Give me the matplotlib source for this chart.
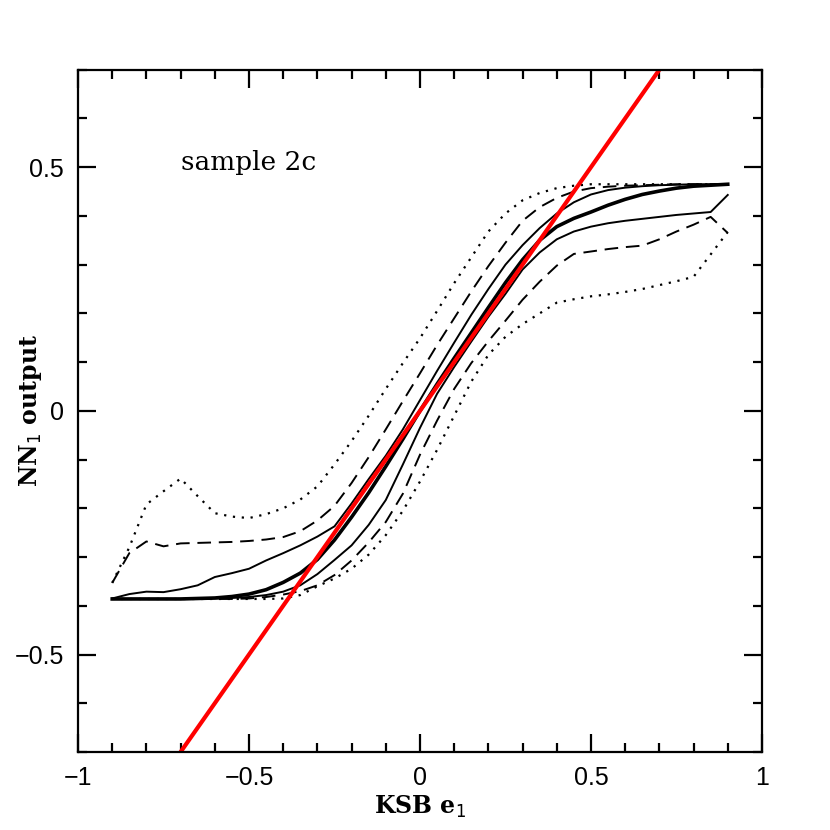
import numpy as np
import matplotlib
matplotlib.use('Agg')
import matplotlib.pyplot as plt
from matplotlib.ticker import MultipleLocator, FixedLocator

# KSB e1 bins
ksb_e1 = [-0.9, -0.85, -0.8, -0.75, -0.7, -0.65, -0.6, -0.55, -0.5, -0.45,
          -0.4, -0.35, -0.3, -0.25, -0.2, -0.15, -0.1, -0.05, 0.0, 0.05,
          0.1, 0.15, 0.2, 0.25, 0.3, 0.35, 0.4, 0.45, 0.5, 0.55,
          0.6, 0.65, 0.7, 0.75, 0.8, 0.85, 0.9]

# NN1 output percentiles
median = [-0.386, -0.386, -0.386, -0.386, -0.386, -0.385, -0.384, -0.381, -0.376, -0.367,
          -0.352, -0.333, -0.305, -0.265, -0.218, -0.168, -0.114, -0.058, 0.0, 0.055,
          0.108, 0.16, 0.212, 0.263, 0.31, 0.35, 0.378, 0.395, 0.408, 0.422,
          0.434, 0.444, 0.451, 0.457, 0.461, 0.463, 0.465]

inner_hi = [-0.385, -0.376, -0.371, -0.372, -0.366, -0.358, -0.341, -0.333, -0.324, -0.307,
            -0.292, -0.276, -0.258, -0.237, -0.19, -0.14, -0.092, -0.038, 0.022, 0.082,
            0.14, 0.197, 0.25, 0.3, 0.34, 0.375, 0.405, 0.428, 0.444, 0.453,
            0.458, 0.461, 0.463, 0.464, 0.465, 0.465, 0.465]

inner_lo = [-0.386, -0.386, -0.386, -0.386, -0.386, -0.386, -0.385, -0.384, -0.382, -0.378,
            -0.371, -0.358, -0.335, -0.306, -0.276, -0.234, -0.183, -0.11, -0.035, 0.035,
            0.09, 0.142, 0.193, 0.24, 0.29, 0.325, 0.352, 0.368, 0.378, 0.385,
            0.39, 0.394, 0.398, 0.402, 0.405, 0.408, 0.443]

mid_hi = [-0.353, -0.292, -0.268, -0.278, -0.272, -0.271, -0.27, -0.269, -0.267, -0.264,
          -0.259, -0.247, -0.225, -0.195, -0.148, -0.095, -0.038, 0.02, 0.077, 0.135,
          0.19, 0.245, 0.297, 0.345, 0.39, 0.418, 0.437, 0.45, 0.457, 0.46,
          0.462, 0.463, 0.464, 0.465, 0.465, 0.465, 0.465]

mid_lo = [-0.386, -0.386, -0.386, -0.386, -0.386, -0.386, -0.386, -0.386, -0.385, -0.382,
          -0.377, -0.37, -0.358, -0.337, -0.307, -0.27, -0.228, -0.17, -0.09, -0.02,
          0.045, 0.098, 0.143, 0.185, 0.228, 0.265, 0.298, 0.322, 0.327, 0.332,
          0.336, 0.339, 0.352, 0.368, 0.382, 0.398, 0.365]

outer_hi = [-0.353, -0.28, -0.192, -0.165, -0.139, -0.175, -0.21, -0.217, -0.22, -0.212,
            -0.2, -0.182, -0.155, -0.11, -0.062, -0.01, 0.045, 0.098, 0.149, 0.205,
            0.262, 0.315, 0.368, 0.405, 0.432, 0.447, 0.457, 0.462, 0.465, 0.465,
            0.465, 0.465, 0.465, 0.465, 0.465, 0.465, 0.465]

outer_lo = [-0.386, -0.386, -0.386, -0.386, -0.386, -0.386, -0.386, -0.386, -0.386, -0.386,
            -0.385, -0.378, -0.36, -0.344, -0.324, -0.295, -0.255, -0.205, -0.145, -0.08,
            -0.01, 0.06, 0.115, 0.152, 0.178, 0.2, 0.222, 0.229, 0.235, 0.239,
            0.244, 0.25, 0.258, 0.266, 0.275, 0.321, 0.367]

# one-to-one line
unity = [-0.7, 0.7]

fig = plt.figure(figsize=(8.3, 8.3), dpi=100)
ax = fig.add_axes([0.094, 0.094, 0.824, 0.822])

ax.plot(ksb_e1, outer_hi, color='black', lw=1.6, linestyle=(0, (1, 3)))
ax.plot(ksb_e1, outer_lo, color='black', lw=1.6, linestyle=(0, (1, 3)))
ax.plot(ksb_e1, mid_hi, color='black', lw=1.4, linestyle=(0, (7, 4)))
ax.plot(ksb_e1, mid_lo, color='black', lw=1.4, linestyle=(0, (7, 4)))
ax.plot(ksb_e1, inner_hi, color='black', lw=1.4)
ax.plot(ksb_e1, inner_lo, color='black', lw=1.4)
ax.plot(ksb_e1, median, color='black', lw=2.6)
ax.plot(unity, unity, color='red', lw=3.0)

ax.set_xlim(-1, 1)
ax.set_ylim(-0.7, 0.7)

ax.xaxis.set_major_locator(FixedLocator([-1, -0.5, 0, 0.5, 1]))
ax.yaxis.set_major_locator(FixedLocator([-0.5, 0, 0.5]))
ax.xaxis.set_minor_locator(MultipleLocator(0.1))
ax.yaxis.set_minor_locator(MultipleLocator(0.1))
ax.set_xticklabels(['\u22121', '\u22120.5', '0', '0.5', '1'])
ax.set_yticklabels(['\u22120.5', '0', '0.5'])

for s in ax.spines.values():
    s.set_linewidth(1.6)
ax.tick_params(which='both', direction='in', top=True, right=True, width=1.6)
ax.tick_params(which='major', length=13, pad=10, labelsize=18)
ax.tick_params(which='minor', length=6.5)
for lab in ax.get_xticklabels() + ax.get_yticklabels():
    lab.set_family('Liberation Sans')

ax.set_xlabel('KSB e$_1$', fontsize=17, family='DejaVu Serif', fontweight='bold')
ax.set_ylabel('NN$_1$ output', fontsize=17, family='DejaVu Serif', fontweight='bold')
ax.xaxis.set_label_coords(0.5, -0.062)
ax.yaxis.set_label_coords(-0.05, 0.5)

ax.text(-0.7, 0.51, 'sample 2c', fontsize=19, family='DejaVu Serif', va='center', ha='left')

fig.savefig('out.png', dpi=100, facecolor='white')
